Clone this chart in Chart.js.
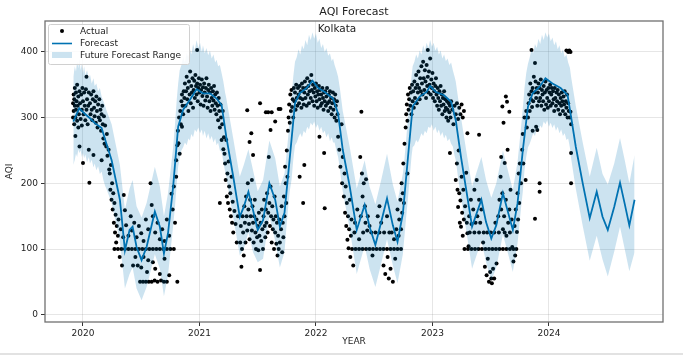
<!DOCTYPE html>
<html>
<head>
<meta charset="utf-8">
<script src="https://cdn.jsdelivr.net/npm/chart.js@4.4.1/dist/chart.umd.min.js"></script>
<style>
html,body{margin:0;padding:0;background:#fff;}
#wrap{width:683px;height:355px;position:relative;}
</style>
</head>
<body>
<div id="wrap"><canvas id="c" width="683" height="355"></canvas></div>
<script>
// ---------- DATA ----------
const yearTicks = [2020, 2021, 2022, 2023, 2024];
const aqiTicks = [0, 100, 200, 300, 400];

// forecast line (decimal year, yhat)
const fcYear = [2019.917,2019.968,2020.02,2020.06,2020.1,2020.16,2020.2,2020.246,2020.317,2020.36,2020.40,2020.426,2020.46,2020.503,2020.546,2020.617,2020.66,2020.695,2020.73,2020.774,2020.817,2020.86,2020.918,2020.975,2021.03,2021.09,2021.147,2021.19,2021.23,2021.29,2021.346,2021.38,2021.42,2021.46,2021.50,2021.546,2021.60,2021.65,2021.69,2021.73,2021.79,2021.82,2021.86,2021.92,2021.97,2022.02,2022.075,2022.147,2022.19,2022.23,2022.29,2022.35,2022.418,2022.46,2022.51,2022.56,2022.61,2022.66,2022.70,2022.746,2022.79,2022.83,2022.89,2022.95,2022.98,2023.03,2023.10,2023.16,2023.20,2023.245,2023.29,2023.34,2023.42,2023.46,2023.505,2023.548,2023.605,2023.65,2023.69,2023.73,2023.776,2023.82,2023.86,2023.92,2023.97,2024.03,2024.10,2024.16,2024.19,2024.23,2024.29,2024.35,2024.41,2024.46,2024.505,2024.56,2024.61,2024.65,2024.69,2024.735];
const fcYhat = [294,314,305,299,292,284,261,235,175,98,129,134,103,83,103,157,134,93,124,195,286,312,327,343,337,337,329,319,271,210,149,164,187,159,129,144,200,175,134,155,266,322,337,345,356,345,339,329,306,251,195,129,167,134,106,141,177,136,111,154,240,317,332,339,348,339,334,324,296,240,190,134,175,141,116,136,185,155,129,169,251,317,337,347,360,352,345,334,301,256,200,147,187,149,129,164,201,169,136,175];

// uncertainty band [decimal year, upper, lower]
const bandWinter1920 = [[2019.917,362,228],[2019.93,378,236],[2019.94,370,245],[2019.95,386,240],[2019.96,375,252],[2019.968,390,246],[2019.98,372,250],[2019.99,382,240],[2020.0,368,246],[2020.01,378,238],[2020.02,365,244],[2020.035,372,232],[2020.05,360,240],[2020.06,366,230],[2020.075,352,236],[2020.09,360,224],[2020.1,348,230],[2020.115,352,220],[2020.13,340,226],[2020.145,345,214],[2020.16,332,218],[2020.175,325,205],[2020.19,318,196],[2020.2,312,192]];
const bandSummer20 = [[2020.246,290,170],[2020.317,228,112],[2020.36,160,40],[2020.40,192,62],[2020.426,205,72],[2020.46,165,40],[2020.503,148,22],[2020.546,170,42],[2020.617,225,92],[2020.66,195,70],[2020.695,150,28],[2020.73,185,60]];
const bandWinter2021 = [[2020.774,255,135],[2020.79,290,165],[2020.805,328,200],[2020.817,352,225],[2020.83,372,238],[2020.845,380,250],[2020.86,392,255],[2020.875,384,262],[2020.89,398,258],[2020.905,392,268],[2020.918,405,265],[2020.93,396,275],[2020.945,412,270],[2020.96,402,282],[2020.975,418,278],[2020.99,406,285],[2021.005,414,276],[2021.02,400,282],[2021.03,410,272],[2021.045,398,280],[2021.06,406,268],[2021.075,395,276],[2021.09,402,266],[2021.105,390,272],[2021.12,396,262],[2021.135,384,268],[2021.147,388,258],[2021.16,378,262],[2021.175,380,250],[2021.19,368,248],[2021.205,355,232],[2021.22,338,218],[2021.23,330,210]];
const bandSummer21 = [[2021.29,268,148],[2021.346,210,90],[2021.38,228,100],[2021.42,252,125],[2021.46,220,95],[2021.50,188,80],[2021.546,205,85],[2021.60,265,150],[2021.65,238,112],[2021.69,195,72]];
const bandWinter2122 = [[2021.73,215,95],[2021.745,240,130],[2021.76,268,160],[2021.775,300,188],[2021.79,330,205],[2021.805,362,235],[2021.82,385,258],[2021.835,392,262],[2021.85,404,270],[2021.865,396,276],[2021.88,410,270],[2021.895,404,280],[2021.91,418,276],[2021.925,410,286],[2021.94,426,282],[2021.955,418,292],[2021.97,430,288],[2021.985,420,294],[2022.0,428,284],[2022.015,414,290],[2022.03,420,280],[2022.045,406,286],[2022.06,412,276],[2022.075,400,280],[2022.09,406,270],[2022.105,394,276],[2022.12,398,264],[2022.135,386,270],[2022.147,390,262],[2022.16,380,262],[2022.175,372,250],[2022.19,362,240],[2022.205,345,222],[2022.22,324,200],[2022.23,310,188]];
const bandSummer22 = [[2022.29,255,130],[2022.35,192,62],[2022.418,235,105],[2022.46,195,70],[2022.51,168,42],[2022.56,205,78],[2022.61,245,115],[2022.66,198,75],[2022.70,172,48]];
const bandWinter2223 = [[2022.746,215,92],[2022.76,238,120],[2022.775,268,150],[2022.79,300,178],[2022.805,335,210],[2022.82,362,240],[2022.83,378,255],[2022.845,385,258],[2022.86,396,266],[2022.875,390,262],[2022.89,402,268],[2022.905,396,276],[2022.92,410,272],[2022.935,402,280],[2022.95,414,276],[2022.965,406,286],[2022.98,418,284],[2022.995,408,290],[2023.01,414,280],[2023.025,402,286],[2023.04,408,276],[2023.055,396,282],[2023.07,402,272],[2023.085,390,278],[2023.1,396,268],[2023.115,386,274],[2023.13,390,264],[2023.145,380,268],[2023.16,384,260],[2023.175,372,256],[2023.19,362,242],[2023.2,355,235],[2023.22,330,208],[2023.245,300,178]];
const bandSummer23 = [[2023.29,250,128],[2023.34,195,70],[2023.42,240,112],[2023.46,205,80],[2023.505,178,52],[2023.548,200,72],[2023.605,250,122],[2023.65,218,92],[2023.69,190,65]];
const bandWinter2324 = [[2023.73,232,108],[2023.745,258,135],[2023.76,285,162],[2023.776,315,188],[2023.79,345,220],[2023.805,368,240],[2023.82,382,255],[2023.835,392,260],[2023.85,404,268],[2023.865,398,276],[2023.88,412,272],[2023.895,406,282],[2023.91,420,278],[2023.925,412,288],[2023.94,426,284],[2023.955,418,294],[2023.97,430,290],[2023.985,422,296],[2024.0,428,286],[2024.015,416,292],[2024.03,422,284],[2024.045,410,290],[2024.06,416,280],[2024.075,404,286],[2024.09,410,276],[2024.105,398,282],[2024.12,404,272],[2024.135,392,276],[2024.15,396,266],[2024.165,384,268],[2024.18,376,254],[2024.19,362,238],[2024.21,340,215],[2024.23,318,192]];
const bandFuture24 = [[2024.29,262,135],[2024.35,210,82],[2024.41,254,120],[2024.46,214,84],[2024.505,198,58],[2024.56,230,96],[2024.61,269,134],[2024.65,236,100],[2024.69,200,66],[2024.735,243,95]];

// actual observations [decimal year, AQI]
const actualWinter1920 = [[2019.915,300],[2019.915,322],[2019.92,335],[2019.92,310],[2019.925,290],[2019.925,328],[2019.93,345],[2019.93,318],[2019.935,300],[2019.935,272],[2019.94,338],[2019.94,312],[2019.945,325],[2019.95,295],[2019.95,350],[2019.955,318],[2019.96,332],[2019.96,285],[2019.965,305],[2019.97,340],[2019.97,256],[2019.975,322],[2019.98,298],[2019.985,335],[2019.99,312],[2019.99,288],[2019.995,345],[2020.0,231],[2020.0,325],[2020.005,305],[2020.01,338],[2020.015,318],[2020.02,296],[2020.025,343],[2020.03,362],[2020.03,312],[2020.035,328],[2020.04,290],[2020.045,318],[2020.05,251],[2020.05,338],[2020.055,201],[2020.06,322],[2020.065,305],[2020.07,335],[2020.075,312],[2020.08,296],[2020.085,328],[2020.09,243],[2020.09,340],[2020.095,315],[2020.1,302],[2020.105,325],[2020.11,292],[2020.115,332],[2020.12,310],[2020.125,285],[2020.13,320],[2020.135,300],[2020.14,328],[2020.145,296],[2020.15,312],[2020.155,280],[2020.16,235],[2020.16,305],[2020.165,318],[2020.17,290],[2020.175,268],[2020.18,302],[2020.185,260],[2020.19,288],[2020.2,256],[2020.205,275],[2020.21,242],[2020.22,251],[2020.225,221]];
const actualSummer20 = [[2020.23,215],[2020.235,190],[2020.24,228],[2020.245,175],[2020.25,200],[2020.255,160],[2020.26,185],[2020.265,140],[2020.27,170],[2020.275,125],[2020.28,152],[2020.285,110],[2020.29,135],[2020.3,120],[2020.305,145],[2020.315,88],[2020.325,130],[2020.335,75],[2020.345,118],[2020.27,100],[2020.3,100],[2020.33,100],[2020.36,100],[2020.39,100],[2020.42,100],[2020.45,100],[2020.48,100],[2020.51,100],[2020.54,100],[2020.57,100],[2020.6,100],[2020.63,100],[2020.66,100],[2020.69,100],[2020.72,100],[2020.75,100],[2020.78,100],[2020.49,50],[2020.515,50],[2020.54,50],[2020.565,50],[2020.59,50],[2020.615,52],[2020.64,50],[2020.67,52],[2020.695,50],[2020.72,50],[2020.81,50],[2020.43,75],[2020.45,88],[2020.47,75],[2020.5,72],[2020.52,88],[2020.55,65],[2020.56,83],[2020.6,80],[2020.62,70],[2020.66,62],[2020.7,85],[2020.74,60],[2020.35,182],[2020.36,159],[2020.37,136],[2020.39,120],[2020.41,150],[2020.42,128],[2020.44,140],[2020.46,118],[2020.48,135],[2020.5,124],[2020.52,112],[2020.54,145],[2020.56,130],[2020.58,200],[2020.59,167],[2020.6,150],[2020.62,125],[2020.64,140],[2020.66,115],[2020.68,130],[2020.7,112],[2020.72,145],[2020.74,120],[2020.76,184],[2020.77,160],[2020.78,195],[2020.79,140],[2020.8,235],[2020.8,210],[2020.81,258],[2020.815,280],[2020.82,261],[2020.825,300],[2020.83,245],[2020.835,310],[2020.84,290],[2020.845,325],[2020.85,286],[2020.85,335],[2020.855,318],[2020.86,305],[2020.865,340]];
const actualWinter2021 = [[2020.87,330],[2020.875,352],[2020.88,318],[2020.885,340],[2020.89,362],[2020.895,328],[2020.9,345],[2020.905,310],[2020.91,355],[2020.915,335],[2020.92,370],[2020.925,322],[2020.93,348],[2020.935,338],[2020.94,360],[2020.945,315],[2020.95,342],[2020.955,356],[2020.96,330],[2020.965,365],[2020.97,348],[2020.975,335],[2020.98,403],[2020.98,352],[2020.985,325],[2020.99,345],[2020.995,360],[2021.0,338],[2021.005,350],[2021.01,320],[2021.015,342],[2021.02,358],[2021.025,333],[2021.03,346],[2021.035,318],[2021.04,352],[2021.045,338],[2021.05,326],[2021.055,345],[2021.06,360],[2021.065,332],[2021.07,315],[2021.075,342],[2021.08,350],[2021.085,325],[2021.09,338],[2021.095,310],[2021.1,345],[2021.105,330],[2021.11,318],[2021.115,340],[2021.12,326],[2021.125,348],[2021.13,312],[2021.135,335],[2021.14,322],[2021.145,305],[2021.15,338],[2021.155,318],[2021.16,296],[2021.165,330],[2021.17,310],[2021.175,285],[2021.175,170],[2021.18,320],[2021.185,300],[2021.19,266],[2021.195,290],[2021.2,310],[2021.205,252],[2021.21,270],[2021.215,245],[2021.22,230],[2021.225,205],[2021.23,266],[2021.235,180],[2021.24,215],[2021.245,170],[2021.25,233],[2021.255,195],[2021.26,160],[2021.265,185],[2021.27,150],[2021.275,210],[2021.28,140],[2021.285,172],[2021.29,125],[2021.3,158],[2021.31,138],[2021.32,110],[2021.33,150]];
const actualSummer21 = [[2021.35,110],[2021.355,135],[2021.36,73],[2021.365,100],[2021.37,150],[2021.375,125],[2021.38,90],[2021.385,165],[2021.39,140],[2021.395,110],[2021.4,180],[2021.405,150],[2021.41,311],[2021.41,128],[2021.415,200],[2021.42,160],[2021.425,138],[2021.43,263],[2021.43,115],[2021.435,175],[2021.44,150],[2021.445,276],[2021.45,205],[2021.45,128],[2021.455,165],[2021.46,243],[2021.46,140],[2021.465,110],[2021.47,150],[2021.475,175],[2021.48,125],[2021.485,100],[2021.49,145],[2021.495,118],[2021.5,135],[2021.505,98],[2021.51,155],[2021.515,120],[2021.52,68],[2021.52,322],[2021.525,140],[2021.53,112],[2021.535,160],[2021.54,130],[2021.545,100],[2021.55,150],[2021.555,175],[2021.56,135],[2021.565,118],[2021.57,308],[2021.57,160],[2021.575,140],[2021.58,185],[2021.585,125],[2021.59,308],[2021.59,155],[2021.595,240],[2021.6,170],[2021.605,135],[2021.61,281],[2021.61,195],[2021.615,150],[2021.62,308],[2021.62,110],[2021.625,165],[2021.63,130],[2021.635,145],[2021.64,100],[2021.645,180],[2021.65,294],[2021.65,125],[2021.655,150],[2021.66,108],[2021.665,140],[2021.67,90],[2021.675,120],[2021.68,313],[2021.68,100],[2021.685,145],[2021.69,110],[2021.695,313],[2021.7,130],[2021.705,165],[2021.71,95],[2021.715,140],[2021.72,118],[2021.725,180],[2021.73,150],[2021.735,225],[2021.74,200],[2021.745,170],[2021.75,250],[2021.755,210],[2021.76,280]];
const actualWinter2122 = [[2021.765,300],[2021.77,320],[2021.775,292],[2021.78,335],[2021.785,310],[2021.79,342],[2021.795,316],[2021.8,328],[2021.805,300],[2021.81,345],[2021.815,325],[2021.82,338],[2021.825,312],[2021.83,350],[2021.835,330],[2021.84,318],[2021.845,345],[2021.85,335],[2021.855,322],[2021.86,210],[2021.86,348],[2021.865,330],[2021.87,340],[2021.875,315],[2021.88,352],[2021.885,328],[2021.89,170],[2021.89,345],[2021.895,320],[2021.9,228],[2021.9,338],[2021.905,355],[2021.91,330],[2021.915,345],[2021.92,318],[2021.925,360],[2021.93,335],[2021.935,348],[2021.94,322],[2021.945,340],[2021.95,355],[2021.955,330],[2021.96,365],[2021.965,342],[2021.97,325],[2021.975,350],[2021.98,338],[2021.985,318],[2021.99,345],[2021.995,332],[2022.0,352],[2022.005,325],[2022.01,340],[2022.015,315],[2022.02,335],[2022.025,348],[2022.03,271],[2022.03,328],[2022.035,342],[2022.04,318],[2022.045,335],[2022.05,322],[2022.055,345],[2022.06,330],[2022.065,312],[2022.07,246],[2022.07,338],[2022.075,162],[2022.075,325],[2022.08,340],[2022.085,318],[2022.09,332],[2022.095,345],[2022.1,322],[2022.105,310],[2022.11,335],[2022.115,325],[2022.12,340],[2022.125,315],[2022.13,330],[2022.135,305],[2022.14,322],[2022.145,338],[2022.15,312],[2022.155,328],[2022.16,300],[2022.165,335],[2022.17,318],[2022.175,295],[2022.18,325],[2022.185,305]];
const actualSummer22 = [[2022.19,271],[2022.2,251],[2022.21,225],[2022.22,290],[2022.225,200],[2022.23,240],[2022.24,180],[2022.245,215],[2022.25,155],[2022.255,195],[2022.26,135],[2022.265,170],[2022.27,114],[2022.275,150],[2022.28,101],[2022.285,130],[2022.29,175],[2022.295,88],[2022.3,120],[2022.305,145],[2022.32,75],[2022.335,140],[2022.355,160],[2022.37,115],[2022.38,240],[2022.385,150],[2022.39,309],[2022.395,215],[2022.4,180],[2022.41,200],[2022.42,165],[2022.425,140],[2022.43,206],[2022.445,150],[2022.46,135],[2022.485,90],[2022.53,150],[2022.545,165],[2022.56,140],[2022.58,75],[2022.595,62],[2022.61,150],[2022.615,88],[2022.625,55],[2022.64,70],[2022.66,50],[2022.68,85],[2022.69,130],[2022.7,160],[2022.715,145],[2022.725,175],[2022.73,130],[2022.735,200],[2022.74,155],[2022.745,185],[2022.75,230],[2022.755,170],[2022.76,260],[2022.785,215],[2022.31,100],[2022.34,100],[2022.37,100],[2022.40,100],[2022.43,100],[2022.46,100],[2022.49,100],[2022.52,100],[2022.55,100],[2022.58,100],[2022.61,100],[2022.64,100],[2022.67,100],[2022.70,100],[2022.73,100],[2022.33,125],[2022.405,125],[2022.44,128],[2022.475,125],[2022.51,125],[2022.545,125],[2022.585,125],[2022.63,125],[2022.65,125],[2022.67,115],[2022.71,120]];
const actualWinter2223 = [[2022.77,285],[2022.775,305],[2022.78,320],[2022.785,295],[2022.79,335],[2022.795,312],[2022.8,328],[2022.805,345],[2022.81,318],[2022.815,338],[2022.82,305],[2022.825,350],[2022.83,325],[2022.835,340],[2022.84,315],[2022.845,355],[2022.85,330],[2022.855,345],[2022.86,365],[2022.865,322],[2022.87,350],[2022.875,338],[2022.88,370],[2022.885,345],[2022.89,328],[2022.895,360],[2022.9,340],[2022.905,378],[2022.91,352],[2022.915,335],[2022.92,385],[2022.925,360],[2022.93,342],[2022.935,372],[2022.94,355],[2022.945,330],[2022.95,380],[2022.955,348],[2022.96,403],[2022.96,362],[2022.965,338],[2022.97,370],[2022.975,350],[2022.98,390],[2022.985,335],[2022.99,358],[2022.995,345],[2023.0,368],[2023.005,330],[2023.01,352],[2023.015,340],[2023.02,325],[2023.025,348],[2023.03,360],[2023.035,335],[2023.04,318],[2023.045,345],[2023.05,330],[2023.055,312],[2023.06,340],[2023.065,325],[2023.07,348],[2023.075,318],[2023.08,335],[2023.085,305],[2023.09,330],[2023.095,320],[2023.1,340],[2023.105,310],[2023.11,328],[2023.115,315],[2023.12,300],[2023.125,325],[2023.13,312],[2023.135,295],[2023.14,322],[2023.145,308],[2023.15,246],[2023.15,318],[2023.155,300],[2023.16,325],[2023.17,312],[2023.18,290],[2023.19,318],[2023.2,305],[2023.21,322],[2023.22,298],[2023.23,315],[2023.24,305],[2023.25,320],[2023.26,300],[2023.27,310],[2023.3,276]];
const actualSummer23 = [[2023.2,205],[2023.21,230],[2023.215,190],[2023.22,164],[2023.225,250],[2023.23,185],[2023.235,140],[2023.24,174],[2023.245,134],[2023.25,210],[2023.255,155],[2023.26,120],[2023.265,190],[2023.27,145],[2023.28,165],[2023.29,216],[2023.295,140],[2023.3,124],[2023.31,104],[2023.315,150],[2023.33,175],[2023.335,138],[2023.35,160],[2023.36,190],[2023.37,140],[2023.38,205],[2023.385,150],[2023.4,274],[2023.4,175],[2023.41,140],[2023.42,160],[2023.435,110],[2023.45,73],[2023.465,60],[2023.475,85],[2023.485,50],[2023.495,65],[2023.505,55],[2023.51,48],[2023.52,70],[2023.53,55],[2023.54,140],[2023.55,78],[2023.565,150],[2023.575,175],[2023.585,210],[2023.59,240],[2023.59,160],[2023.6,317],[2023.6,185],[2023.605,130],[2023.61,292],[2023.615,150],[2023.62,231],[2023.63,332],[2023.63,175],[2023.635,120],[2023.64,324],[2023.645,251],[2023.65,140],[2023.66,309],[2023.66,160],[2023.67,190],[2023.68,145],[2023.685,103],[2023.695,81],[2023.705,135],[2023.71,90],[2023.715,160],[2023.725,126],[2023.73,185],[2023.735,145],[2023.74,215],[2023.745,170],[2023.75,230],[2023.76,200],[2023.77,251],[2023.775,275],[2023.78,230],[2023.79,300],[2023.8,205],[2023.805,310],[2023.81,285],[2023.275,100],[2023.305,100],[2023.335,100],[2023.365,100],[2023.395,100],[2023.425,100],[2023.455,100],[2023.485,100],[2023.515,100],[2023.545,100],[2023.575,100],[2023.605,100],[2023.635,100],[2023.665,100],[2023.695,100],[2023.72,100],[2023.32,125],[2023.36,125],[2023.4,125],[2023.44,125],[2023.47,125],[2023.5,125],[2023.53,125],[2023.57,125],[2023.62,125],[2023.665,125]];
const actualWinter2324 = [[2023.82,300],[2023.825,322],[2023.83,335],[2023.835,310],[2023.84,352],[2023.845,328],[2023.85,403],[2023.85,340],[2023.855,316],[2023.86,280],[2023.86,345],[2023.865,325],[2023.87,362],[2023.875,338],[2023.88,383],[2023.88,146],[2023.885,355],[2023.89,286],[2023.89,330],[2023.895,345],[2023.9,281],[2023.9,318],[2023.905,338],[2023.91,352],[2023.915,325],[2023.92,200],[2023.92,187],[2023.92,345],[2023.925,330],[2023.93,358],[2023.935,318],[2023.94,342],[2023.945,335],[2023.95,325],[2023.955,348],[2023.96,312],[2023.965,338],[2023.97,355],[2023.975,320],[2023.98,342],[2023.985,330],[2023.99,315],[2023.995,345],[2024.0,325],[2024.005,338],[2024.01,350],[2024.015,318],[2024.02,335],[2024.025,345],[2024.03,322],[2024.035,340],[2024.04,328],[2024.045,310],[2024.05,345],[2024.055,330],[2024.06,318],[2024.065,338],[2024.07,325],[2024.075,342],[2024.08,312],[2024.085,335],[2024.09,322],[2024.095,305],[2024.1,330],[2024.105,318],[2024.11,338],[2024.115,325],[2024.12,310],[2024.125,332],[2024.13,320],[2024.135,340],[2024.14,305],[2024.145,325],[2024.15,402],[2024.15,315],[2024.155,335],[2024.16,300],[2024.165,400],[2024.165,322],[2024.17,310],[2024.175,402],[2024.18,300],[2024.185,400],[2024.185,309],[2024.19,246],[2024.19,200],[2024.19,290]];

// ---------- CHART ----------
const FONT = "'DejaVu Sans', sans-serif";
const BLUE = '#0072B2';
const actualAll = [].concat(actualWinter1920, actualSummer20, actualWinter2021, actualSummer21, actualWinter2122, actualSummer22, actualWinter2223, actualSummer23, actualWinter2324);
const bandAll = [].concat(bandWinter1920, bandSummer20, bandWinter2021, bandSummer21, bandWinter2122, bandSummer22, bandWinter2223, bandSummer23, bandWinter2324, bandFuture24);

const PLOT = {left: 45, right: 663, top: 21, bottom: 322};

const decor = {
  id: 'decor',
  afterDraw(chart) {
    const ctx = chart.ctx;
    const a = chart.chartArea;
    ctx.save();
    ctx.strokeStyle = '#707070';
    ctx.lineWidth = 1.3;
    ctx.strokeRect(a.left, a.top, a.right - a.left, a.bottom - a.top);
    ctx.fillStyle = '#222';
    ctx.textAlign = 'center';
    ctx.textBaseline = 'middle';
    ctx.font = '11px ' + FONT;
    ctx.fillText('AQI Forecast', (a.left + a.right) / 2, 12);
    ctx.font = '10.5px ' + FONT;
    ctx.fillText('Kolkata', 337, 29);
    ctx.font = '9px ' + FONT;
    ctx.fillText('YEAR', (a.left + a.right) / 2, 342);
    ctx.save();
    ctx.translate(10, (a.top + a.bottom) / 2);
    ctx.rotate(-Math.PI / 2);
    ctx.fillText('AQI', 0, 0);
    ctx.restore();
    // legend
    const lx = 48, ly = 24, lw = 141, lh = 40;
    ctx.fillStyle = 'rgba(255,255,255,0.85)';
    ctx.strokeStyle = '#d0d0d0';
    ctx.lineWidth = 1;
    ctx.beginPath();
    if (ctx.roundRect) ctx.roundRect(lx + 0.5, ly + 0.5, lw, lh, 2); else ctx.rect(lx + 0.5, ly + 0.5, lw, lh);
    ctx.fill();
    ctx.stroke();
    ctx.fillStyle = '#000';
    ctx.beginPath();
    ctx.arc(62, 31, 2, 0, Math.PI * 2);
    ctx.fill();
    ctx.strokeStyle = BLUE;
    ctx.lineWidth = 1.6;
    ctx.beginPath();
    ctx.moveTo(52, 43.5);
    ctx.lineTo(72, 43.5);
    ctx.stroke();
    ctx.fillStyle = 'rgba(0,114,178,0.2)';
    ctx.fillRect(52, 52, 20, 6);
    ctx.fillStyle = '#222';
    ctx.textAlign = 'left';
    ctx.font = '9px ' + FONT;
    ctx.fillText('Actual', 80, 31.5);
    ctx.fillText('Forecast', 80, 43.5);
    ctx.fillText('Future Forecast Range', 80, 55.5);
    ctx.fillStyle = '#e2e2e2';
    ctx.fillRect(0, 353, 683, 2);
    ctx.restore();
  }
};

new Chart(document.getElementById('c'), {
  type: 'line',
  data: {
    datasets: [
      {label: 'upper', data: bandAll.map(b => ({x: b[0], y: b[1]})), borderWidth: 0, borderColor: 'rgba(0,0,0,0)', pointRadius: 0, fill: '+1', backgroundColor: 'rgba(0,114,178,0.2)', tension: 0},
      {label: 'lower', data: bandAll.map(b => ({x: b[0], y: b[2]})), borderWidth: 0, borderColor: 'rgba(0,0,0,0)', pointRadius: 0, fill: false, tension: 0},
      {label: 'Forecast', data: fcYear.map((x, i) => ({x: x, y: fcYhat[i]})), borderColor: BLUE, borderWidth: 1.8, pointRadius: 0, fill: false, tension: 0},
      {label: 'Actual', type: 'scatter', data: actualAll.map(p => ({x: p[0], y: p[1]})), showLine: false, pointRadius: 2, pointBackgroundColor: '#000', pointBorderWidth: 0, borderColor: '#000', backgroundColor: '#000'}
    ]
  },
  options: {
    responsive: false,
    devicePixelRatio: 1,
    animation: false,
    events: [],
    layout: {padding: {top: PLOT.top, right: 683 - PLOT.right, left: 0, bottom: 0}},
    plugins: {legend: {display: false}, title: {display: false}, tooltip: {enabled: false}},
    scales: {
      x: {
        type: 'linear', min: 2019.674, max: 2024.979,
        afterFit: s => { s.height = 355 - PLOT.bottom; },
        afterBuildTicks: s => { s.ticks = yearTicks.map(v => ({value: v})); },
        ticks: {callback: v => String(v), font: {family: FONT, size: 9}, color: '#222', padding: 2, maxRotation: 0, autoSkip: false},
        grid: {color: 'rgba(128,128,128,0.2)', tickColor: '#333', tickLength: 4, lineWidth: 1},
        border: {display: false}
      },
      y: {
        type: 'linear', min: -11.1, max: 447,
        afterFit: s => { s.width = PLOT.left; },
        afterBuildTicks: s => { s.ticks = aqiTicks.map(v => ({value: v})); },
        ticks: {callback: v => String(v), font: {family: FONT, size: 9}, color: '#222', padding: 3, autoSkip: false},
        grid: {color: 'rgba(128,128,128,0.2)', tickColor: '#333', tickLength: 4, lineWidth: 1},
        border: {display: false}
      }
    }
  },
  plugins: [decor]
});
</script>
</body>
</html>
